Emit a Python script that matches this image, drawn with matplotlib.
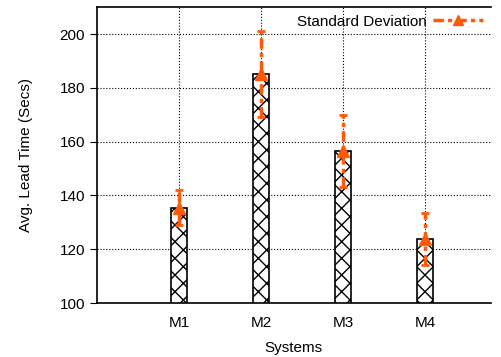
import numpy as np
import matplotlib.pyplot as plt

plt.rcParams['font.family'] = ['Liberation Sans', 'DejaVu Sans']
plt.rcParams['hatch.linewidth'] = 1.0

systems = ['M1', 'M2', 'M3', 'M4']
lead_time = [135.5, 185.0, 156.5, 123.8]
std_dev = [6.5, 16.0, 13.5, 9.7]

orange = '#ff5a0a'
dashdot = (0, (3, 1.2, 1.2, 1.2))

fig = plt.figure(figsize=(5.02, 3.57), dpi=100)
ax = fig.add_axes([0.193, 0.151, 0.785, 0.829])

x = np.arange(1, len(systems) + 1)
ax.bar(x, lead_time, width=0.2, color='white', edgecolor='black',
       hatch='xx', linewidth=1.2, zorder=2)
eb = ax.errorbar(x, lead_time, yerr=std_dev, fmt='none', ecolor=orange,
                 elinewidth=2.5, capsize=3, capthick=2, zorder=3)
eb[2][0].set_linestyle(dashdot)
ax.plot(x, lead_time, linestyle='none', marker='^', markersize=8,
        color=orange, zorder=4)

# legend handle
ax.plot([], [], color=orange, linestyle=dashdot, linewidth=2.5,
        marker='^', markersize=7, label='Standard Deviation')
ax.legend(loc='upper right', frameon=False, markerfirst=False,
          fontsize=11, handlelength=3.3, borderaxespad=0.1, handletextpad=0.4)

ax.set_xlim(0, 4.8)
ax.set_ylim(100, 210)
ax.set_xticks(x)
ax.set_xticklabels(systems)
ax.set_yticks(np.arange(100, 201, 20))
ax.tick_params(axis='x', length=0, pad=9, labelsize=11)
ax.tick_params(axis='y', direction='out', length=5, labelsize=11)
ax.grid(True, color='black', linestyle=':', linewidth=0.8, zorder=0)
ax.set_axisbelow(True)
ax.spines['right'].set_visible(False)
for s in ['left', 'top', 'bottom']:
    ax.spines[s].set_linewidth(1.2)

ax.set_xlabel('Systems', fontsize=11, labelpad=8)
ax.set_ylabel('Avg. Lead Time (Secs)', fontsize=11, labelpad=19)

fig.savefig('out.png', dpi=100)
